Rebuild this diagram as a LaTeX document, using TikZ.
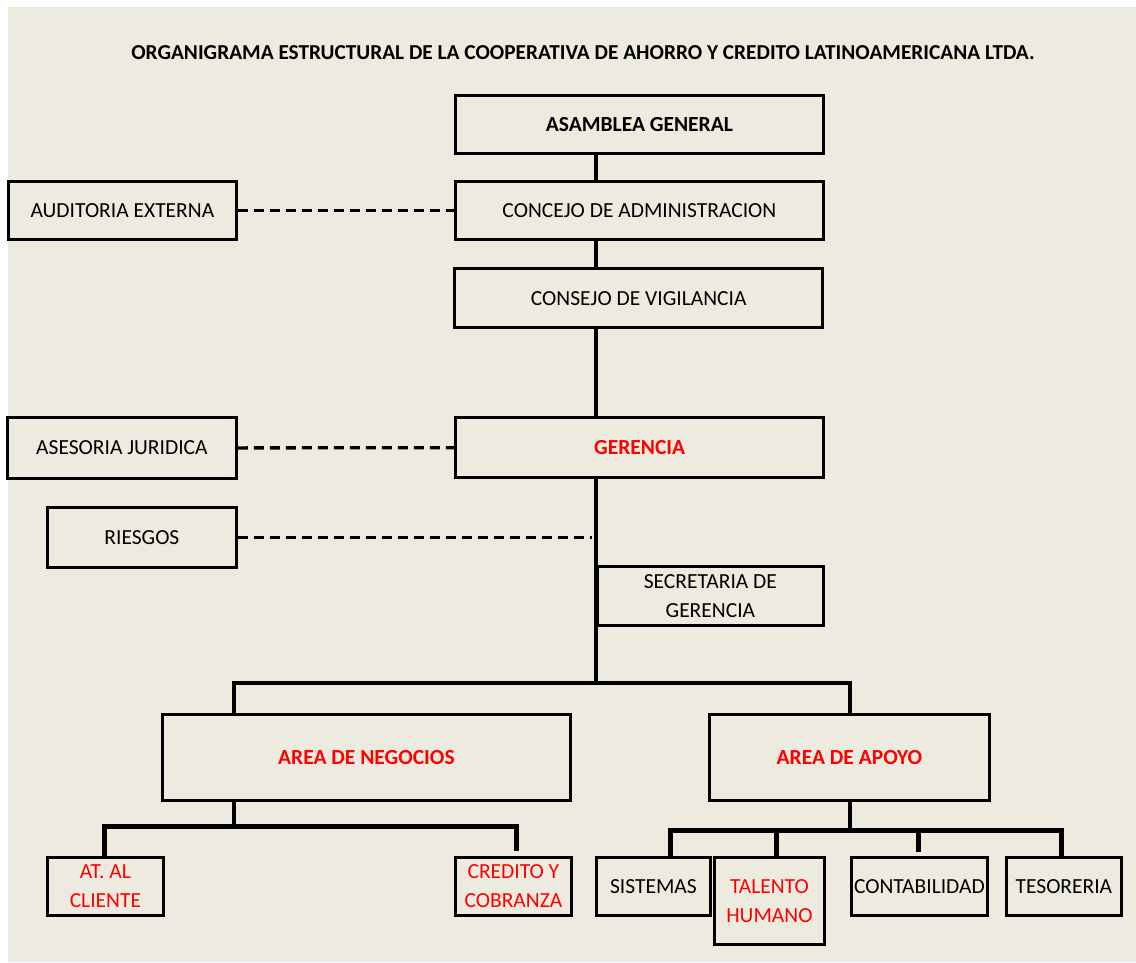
\documentclass[tikz,border=0pt]{standalone}
\usepackage{fontspec}
\setmainfont{Carlito}
\definecolor{bg}{RGB}{237,235,224}
\definecolor{redtxt}{RGB}{255,0,0}
\begin{document}
\begin{tikzpicture}[x=1pt,y=-1pt,
  box/.style={draw=black,line width=2.8pt,fill=bg,minimum height=58pt,inner sep=0pt,font=\fontsize{21.5}{29}\selectfont,align=center,anchor=north west},
  thick box/.style={box,line width=3.4pt},
  bold/.style={font=\bfseries\fontsize{21.5}{29}\selectfont},
  redt/.style={text=redtxt},
  conn/.style={line width=3.2pt},
  heavy/.style={line width=5pt},
  dashc/.style={line width=3.3pt,dash pattern=on 10pt off 6pt}]
\useasboundingbox (0,0) rectangle (1136,962);
\fill[white] (0,0) rectangle (1136,962);
\fill[bg] (8,7) rectangle (1136,962);
\node[font=\bfseries\fontsize{21.3}{26}\selectfont] (title) at (583,53) {ORGANIGRAMA ESTRUCTURAL DE LA COOPERATIVA DE AHORRO Y CREDITO LATINOAMERICANA LTDA.};
% top column
\node[box,bold,minimum width=368pt] (asam) at (454,94) {ASAMBLEA GENERAL};
\node[box,minimum width=368pt] (conc) at (454,180) {CONCEJO DE ADMINISTRACION};
\node[thick box,minimum width=368pt,minimum height=59pt] (cons) at (453,267) {CONSEJO DE VIGILANCIA};
\node[box,minimum width=228pt] (aud) at (7,180) {AUDITORIA EXTERNA};
\node[box,minimum width=229pt,minimum height=61pt] (ases) at (6,416) {ASESORIA JURIDICA};
\node[thick box,bold,redt,minimum width=368pt,minimum height=60pt] (ger) at (454,416) {GERENCIA};
\node[box,minimum width=189pt,minimum height=60pt] (ries) at (46,506) {RIESGOS};
\node[box,minimum width=226pt,minimum height=59pt] (sec) at (596,565) {SECRETARIA DE\\GERENCIA};
% areas
\node[box,bold,redt,minimum width=408pt,minimum height=86pt] (neg) at (161,713) {AREA DE NEGOCIOS};
\node[box,bold,redt,minimum width=280pt,minimum height=86pt] (apo) at (708,713) {AREA DE APOYO};
% bottom
\node[box,redt,minimum width=116pt] (atc) at (46,856) {AT. AL\\CLIENTE};
\node[box,redt,minimum width=116pt] (cred) at (454,856) {CREDITO Y\\COBRANZA};
\node[box,minimum width=114pt] (sis) at (595,856) {SISTEMAS};
\node[box,redt,minimum width=110pt,minimum height=87pt] (tal) at (713,856) {TALENTO\\HUMANO};
\node[box,minimum width=136pt] (cont) at (850,856) {CONTABILIDAD};
\node[box,minimum width=115pt] (tes) at (1005,856) {TESORERIA};
% coordinates
\coordinate (g1) at (596,683);
\coordinate (nL) at (234,683);
\coordinate (aR) at (850,683);
\coordinate (rj) at (592,534);
\coordinate (nb) at (234,826);
\coordinate (ab) at (850,830);
% connectors
\draw[conn] (asam.south -| 596,0) -- (conc.north -| 596,0);
\draw[conn] (conc.south -| 596,0) -- (cons.north -| 596,0);
\draw[conn] (cons.south -| 596,0) -- (ger.north -| 596,0);
\draw[conn] (ger.south -| 596,0) -- (g1);
\draw[conn] (nL |- neg.north) -- (nL) -- (aR) -- (aR |- apo.north);
\draw[dashc] (aud.east) -- (conc.west);
\draw[dashc] (ases.east) -- (ger.west);
\draw[dashc] (ries.east) -- (ries.east -| rj);
\draw[conn] (neg.south -| nb) -- (nb);
\draw[heavy] (atc.north -| 104,0) -- (104,826) -- (516,826) -- (516,851);
\draw[conn] (apo.south -| ab) -- (ab);
\draw[heavy] (sis.north -| 670,0) -- (670,830) -- (1061,830) -- (tes.north -| 1061,0);
\draw[heavy] (776,830) -- (tal.north -| 776,0);
\draw[heavy] (918,830) -- (918,852);
\end{tikzpicture}
\end{document}
